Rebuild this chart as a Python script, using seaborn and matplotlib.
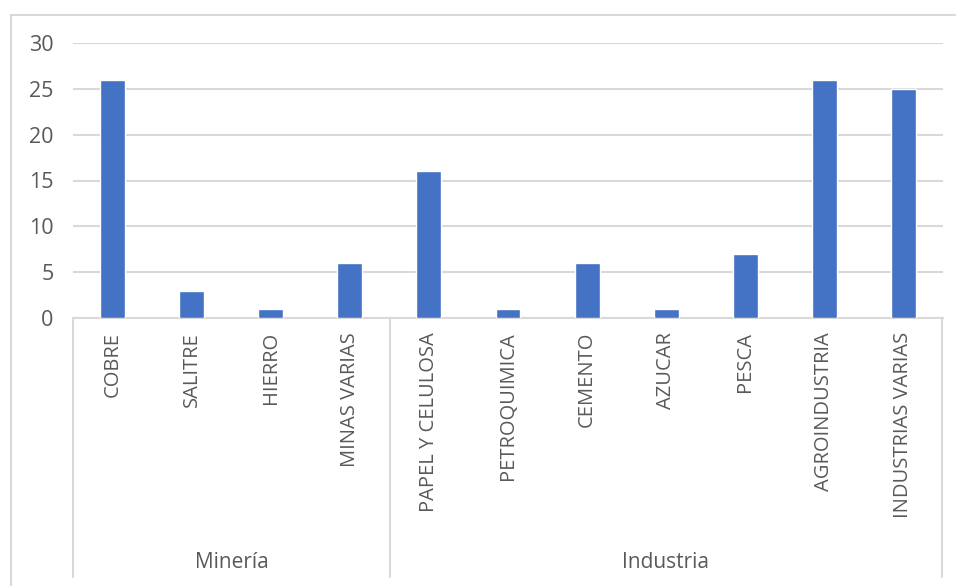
import matplotlib
matplotlib.use("Agg")
import matplotlib.pyplot as plt
import seaborn as sns
import pandas as pd
from matplotlib.lines import Line2D

categories = ["COBRE", "SALITRE", "HIERRO", "MINAS VARIAS", "PAPEL Y CELULOSA",
              "PETROQUIMICA", "CEMENTO", "AZUCAR", "PESCA", "AGROINDUSTRIA",
              "INDUSTRIAS VARIAS"]
values = [26, 3, 1, 6, 16, 1, 6, 1, 7, 26, 25]
groups = ["Minería"] * 4 + ["Industria"] * 7
group_names = ["Minería", "Industria"]
yticks = [0, 5, 10, 15, 20, 25, 30]

df = pd.DataFrame({"cat": categories, "val": values, "grp": groups})

sns.set_theme(style="white")
plt.rcParams['font.family'] = ['Open Sans', 'DejaVu Sans']

W, H = 956, 586
fig = plt.figure(figsize=(W / 100, H / 100), dpi=100)
x0, x1, y0, y1 = 73, 943, 318, 43
ax = fig.add_axes([x0 / W, 1 - y0 / H, (x1 - x0) / W, (y0 - y1) / H])

sns.barplot(data=df, x="cat", y="val", color="#4472C4", width=0.315,
            saturation=1, ax=ax, zorder=3)
ax.set_ylim(0, 30)
ax.set_xlim(-0.5, len(categories) - 0.5)
ax.set_yticks(yticks)
ax.yaxis.grid(True, color="#D9D9D9", linewidth=1.5, zorder=0)
ax.set_axisbelow(True)
for s in ["top", "right", "left"]:
    ax.spines[s].set_visible(False)
ax.spines["bottom"].set_color("#D9D9D9")
ax.spines["bottom"].set_linewidth(1.5)
ax.set_xlabel("")
ax.set_ylabel("")
ax.tick_params(axis="y", length=0, pad=14, labelsize=15.5, labelcolor="#595959")
ax.tick_params(axis="x", length=0, pad=10, labelsize=14.5, labelcolor="#595959")
plt.setp(ax.get_xticklabels(), rotation=90)

# group separators
col = "#D9D9D9"
def fx(px): return px / W
def fy(py): return 1 - py / H
for px in [73, 390, 942]:
    fig.add_artist(Line2D([fx(px), fx(px)], [fy(318), fy(577)], color=col, lw=1.5))
# group labels
fig.text(fx((73 + 390) / 2), fy(562), group_names[0], ha="center", va="center",
         fontsize=15, color="#595959")
fig.text(fx((390 + 942) / 2), fy(562), group_names[1], ha="center", va="center",
         fontsize=15, color="#595959")
# outer chart border
fig.add_artist(Line2D([fx(11), fx(11)], [fy(15), fy(586)], color=col, lw=1.5))
fig.add_artist(Line2D([fx(11), fx(956)], [fy(15), fy(15)], color=col, lw=1.5))

fig.savefig("out.png", dpi=100)
